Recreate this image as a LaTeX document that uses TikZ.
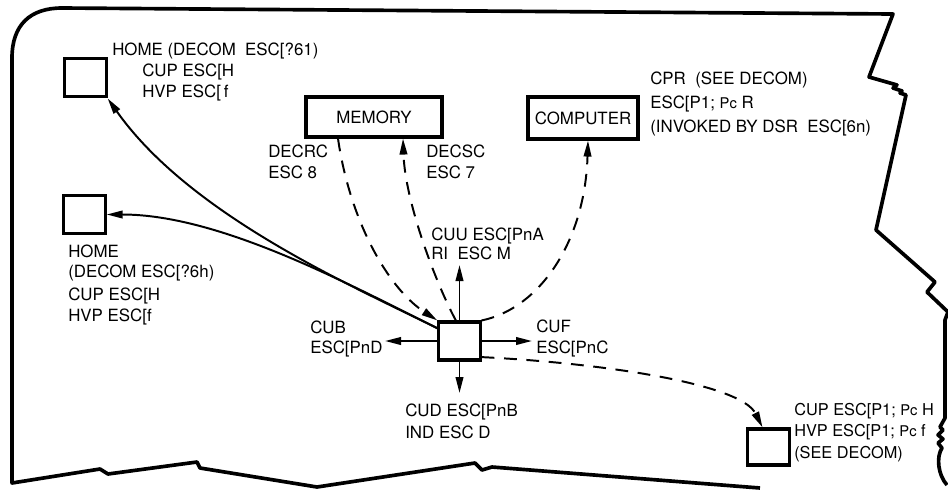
\documentclass[tikz,border=0pt]{standalone}
\usepackage{fontspec}
\setmainfont{TeX Gyre Heros}
\usetikzlibrary{arrows.meta,calc}
\newcommand{\smallpc}{{\fontsize{10.5}{12}\selectfont Pc}}

\begin{document}
\begin{tikzpicture}[x=0.025cm, y=-0.025cm,
    font=\fontsize{12}{14.5}\selectfont, >={Triangle[length=4mm,width=1.9mm]},
    box/.style={draw, line width=2.2pt, inner sep=0pt},
    cell/.style={box, minimum width=1.03cm, minimum height=0.97cm},
    lbl/.style={anchor=base west, align=left, inner sep=0pt},
    link/.style={->, line width=1.4pt},
    dlink/.style={link, dash pattern=on 3.2mm off 2.4mm}]
  \useasboundingbox (0,0) rectangle (948,489);

  %% Torn-paper frame
  \draw[line width=2.6pt, line join=round]
    (760,488) -- (492,467) -- (482,470) -- (475,463) -- (317,487) -- (200,468)
    -- (197,462) -- (108,474) -- (100,469) -- (12,483) -- (12,58)
    .. controls (12,25) and (30,8) .. (62,8) -- (893,14)
    -- (869,77) -- (897,85) -- (893,88) -- (902,91) -- (900,93) -- (906,95)
    -- (876,230) -- (935,282) -- (927,292) -- (948,312) -- (945,320) -- (945,418)
    -- (940,427) -- (943,430) -- (938,435) -- (943,439) -- (938,443) -- (942,448)
    .. controls (936,457) and (938,475) .. (947,485);

  %% Boxes
  \node[cell] (homea) at (85.5,77.5) {};
  \node[cell] (homeb) at (84.5,214.5) {};
  \node[box, minimum width=3.4cm, minimum height=1cm] (memory) at (374,117) {MEMORY};
  \node[box, minimum width=2.75cm, minimum height=1.05cm] (computer) at (583,118) {COMPUTER};
  \node[cell, minimum height=0.95cm] (hub) at (459.5,341) {};
  \node[cell, minimum height=0.9cm] (cursor) at (768.5,447) {};

  %% Labels (placed at the baseline of their last line)
  \node[lbl] (homealbl) at (112,55) {HOME (DECOM\ \ ESC[?61)};
  \node[lbl] (homeaseq) at (142,97) {CUP ESC[H\\HVP ESC[\,f};
  \node[lbl] (homeblbl) at (68,321)
    {HOME\\(DECOM ESC[?6h)\\[2pt]CUP ESC[H\\HVP ESC[f};
  \node[lbl] (decrc) at (268,178) {DECRC\\ESC 8};
  \node[lbl] (decsc) at (426,178) {DECSC\\ESC 7};
  \node[lbl, font=\fontsize{12}{17}\selectfont] (cpr) at (650,132)
    {CPR\ \ (SEE DECOM)\\ESC[P1; \smallpc{} R\\(INVOKED BY DSR\ \ ESC[6n)};
  \node[lbl, font=\fontsize{12}{13}\selectfont] (cuu) at (431,259) {CUU ESC[PnA\\RI\ \ ESC M};
  \node[lbl, font=\fontsize{12}{14}\selectfont] (cub) at (310,353) {CUB\\ESC[PnD};
  \node[lbl] (cuf) at (536,353) {CUF\\ESC[PnC};
  \node[lbl, font=\fontsize{12}{15}\selectfont] (cud) at (405,438) {CUD ESC[PnB\\IND ESC D};
  \node[lbl, font=\fontsize{11.6}{15}\selectfont] (cup) at (794,458)
    {CUP ESC[P1; \smallpc{} H\\HVP ESC[P1; \smallpc{} f\\(SEE DECOM)};

  %% Single steps out of the hub
  \coordinate (upend) at (459.5,265);
  \coordinate (leftend) at (385,341);
  \coordinate (rightend) at (532,341);
  \coordinate (downend) at (459.5,393);
  \foreach \e/\a in {upend/north, leftend/west, rightend/east, downend/south}{
    \draw[link] (hub.\a) -- (\e);
  }

  %% Home moves
  \draw[link] (hub.150) .. controls +(-89,-44) and +(82,116) .. (homea.south east);
  \draw[link] (hub.150) .. controls +(-87,-43) and +(114,0) .. (homeb.east);

  %% Save / restore, report, absolute position
  \draw[dlink] ($(memory.south)+(-36,0)$) .. controls +(12,83) and +(-49,-32) .. (hub.north west);
  \draw[dlink] (hub.100) .. controls +(-20,-37) and +(2,63) .. ($(memory.south)+(29,0)$);
  \draw[dlink] (hub.north east) .. controls +(58,-12) and +(-3,101) .. ($(computer.south)+(5,0)$);
  \draw[dlink] (hub.-36) .. controls +(120,6) and +(-22,-44) .. ($(cursor.north)+(-6,0)$);
\end{tikzpicture}
\end{document}
